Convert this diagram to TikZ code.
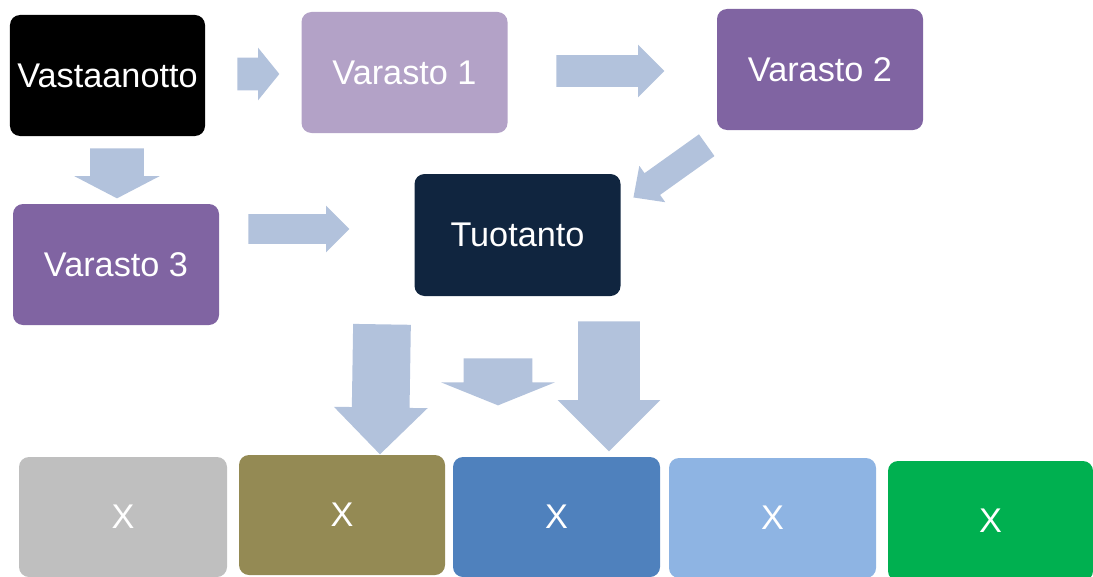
\documentclass[tikz,border=0pt]{standalone}
\usepackage{fontspec}
\setmainfont{Liberation Sans}
\usetikzlibrary{shapes.arrows, positioning}
\definecolor{FlowArrow}{HTML}{B2C2DC}
\definecolor{LilacLight}{HTML}{B3A2C7}
\definecolor{LilacDark}{HTML}{8064A2}
\definecolor{NavyDark}{HTML}{10253F}
\definecolor{StoneGray}{HTML}{BFBFBF}
\definecolor{OliveTone}{HTML}{948A54}
\definecolor{SteelBlue}{HTML}{4F81BD}
\definecolor{SkyBlue}{HTML}{8EB4E3}
\definecolor{LeafGreen}{HTML}{00B050}

\tikzset{
  stage/.style={rounded corners=0.2cm, minimum width=4.12cm, minimum height=2.42cm,
    inner sep=0pt, text=white, font=\fontsize{19.5}{22}\selectfont},
  flow/.style={single arrow, fill=FlowArrow, inner xsep=0pt, anchor=tail}
}

\begin{document}
\begin{tikzpicture}
            \useasboundingbox (0,0) rectangle (21.86,-11.52);
            % upper row
            \node[stage, fill=black, minimum width=3.9cm] (vast) at (2.15,-1.51) {Vastaanotto};
            \node[stage, fill=LilacLight] (var1) at (8.09,-1.45) {Varasto 1};
            \node[stage, fill=LilacDark] (var2) at (16.4,-1.39) {Varasto 2};
            \node[stage, fill=LilacDark] (var3) at (2.32,-5.29) {Varasto 3};
            \node[stage, fill=NavyDark, minimum height=2.44cm] (tuot) at (10.35,-4.70) {Tuotanto};
            
            % lower row
            \node[stage, fill=StoneGray, minimum width=4.16cm, minimum height=2.4cm] (x1) at (2.46,-10.34) {X};
            \node[stage, fill=OliveTone, minimum height=2.4cm] (x2) at (6.84,-10.30) {X};
            \node[stage, fill=SteelBlue, minimum width=4.14cm, minimum height=2.4cm] (x3) at (11.13,-10.34) {X};
            \node[stage, fill=SkyBlue, minimum width=4.14cm, minimum height=2.4cm] (x4) at (15.45,-10.36) {X};
            \node[stage, fill=LeafGreen, minimum width=4.1cm, minimum height=2.4cm] (x5) at (19.81,-10.42) {X};
            
            % block arrows
            \node[flow, inner ysep=0.32cm, minimum height=0.84cm, minimum width=1.04cm, single arrow head extend=0.2cm, single arrow tip angle=102] (a1) at (4.74,-1.48) {};
            \node[flow, inner ysep=0.31cm, minimum height=2.16cm, minimum width=1.04cm, single arrow head extend=0.21cm] (a2) at (11.12,-1.42) {};
            \node[flow, rotate=-90, inner ysep=0.53cm, minimum height=1.0cm, minimum width=1.7cm, single arrow head extend=0.32cm, single arrow tip angle=125] (a3) at (2.34,-2.96) {};
            \node[flow, inner ysep=0.29cm, minimum height=2.02cm, minimum width=0.92cm, single arrow head extend=0.17cm] (a4) at (4.96,-4.58) {};
            \node[flow, rotate=215.5, inner ysep=0.26cm, minimum height=1.8cm, minimum width=0.88cm, single arrow head extend=0.18cm, single arrow tip angle=88] (a5) at (14.14,-2.90) {};
            \node[flow, rotate=-90.9, inner ysep=0.57cm, minimum height=2.6cm, minimum width=1.86cm, single arrow head extend=0.36cm] (a6) at (7.64,-6.48) {};
            \node[flow, rotate=-90, inner ysep=0.68cm, minimum height=0.94cm, minimum width=2.26cm, single arrow head extend=0.45cm, single arrow tip angle=136] (a7) at (9.96,-7.16) {};
            \node[flow, rotate=-90, inner ysep=0.61cm, minimum height=2.6cm, minimum width=2.04cm, single arrow head extend=0.41cm] (a8) at (12.18,-6.42) {};
        \end{tikzpicture}
\end{document}
